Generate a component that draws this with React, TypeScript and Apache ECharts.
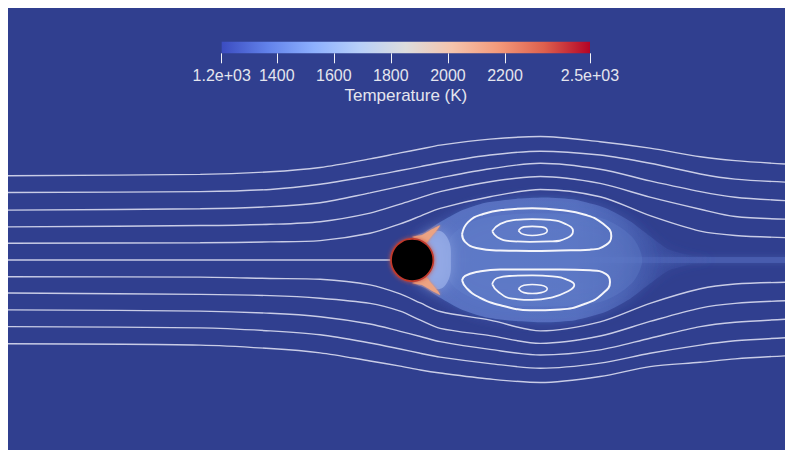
import React, { useEffect, useRef } from 'react';
import * as echarts from 'echarts';

// ---- Flow field (coordinates in cylinder diameters, cylinder centre at 0,0) ----
const streamX = [-9.4, -4.93, -3.3, -2.14, -0.98, -0.28, 0.19, 0.65, 1.81, 2.98, 4.37, 5.53, 6.7, 7.51, 8.67];
const streamT1 = [1.96, 1.99, 2.05, 2.15, 2.35, 2.49, 2.58, 2.67, 2.81, 2.87, 2.75, 2.6, 2.4, 2.31, 2.23];
const streamT2 = [1.57, 1.59, 1.64, 1.76, 1.95, 2.08, 2.17, 2.26, 2.44, 2.53, 2.44, 2.25, 2.0, 1.88, 1.81];
const streamT3 = [1.16, 1.19, 1.24, 1.33, 1.56, 1.71, 1.81, 1.91, 2.12, 2.25, 2.11, 1.84, 1.59, 1.46, 1.38];
const streamT4 = [0.77, 0.8, 0.83, 0.89, 1.09, 1.3, 1.45, 1.59, 1.82, 1.94, 1.78, 1.46, 1.18, 1.01, 0.95];
const streamT5 = [0.39, 0.4, 0.42, 0.45, 0.62, 0.84, 1.02, 1.2, 1.47, 1.64, 1.47, 1.03, 0.67, 0.57, 0.52];
const streamB5 = [-0.39, -0.4, -0.43, -0.45, -0.58, -0.79, -1.0, -1.2, -1.4, -1.65, -1.44, -1.01, -0.67, -0.56, -0.52];
const streamB4 = [-0.77, -0.8, -0.83, -0.89, -1.01, -1.19, -1.4, -1.59, -1.76, -1.94, -1.77, -1.43, -1.12, -1.01, -0.95];
const streamB3 = [-1.16, -1.19, -1.24, -1.32, -1.49, -1.66, -1.78, -1.9, -2.08, -2.21, -2.09, -1.82, -1.55, -1.45, -1.38];
const streamB2 = [-1.55, -1.58, -1.65, -1.74, -1.93, -2.07, -2.17, -2.26, -2.41, -2.52, -2.4, -2.17, -1.98, -1.88, -1.81];
const streamB1 = [-1.95, -1.98, -2.06, -2.16, -2.35, -2.47, -2.56, -2.63, -2.77, -2.85, -2.71, -2.48, -2.38, -2.3, -2.23];
const stagnationLine = [[-9.4, 0], [-0.5, 0]];

const upperOuter = [[1.16, 0.6], [1.3, 0.88], [1.65, 1.07], [2.16, 1.17], [2.79, 1.2], [3.44, 1.16], [4.02, 1.05], [4.44, 0.84], [4.63, 0.56], [4.51, 0.35], [4.14, 0.24], [3.44, 0.22], [2.74, 0.21], [2.05, 0.22], [1.49, 0.28], [1.23, 0.42], [1.16, 0.6]];
const upperMid = [[1.86, 0.67], [2.05, 0.84], [2.4, 0.93], [2.79, 0.95], [3.21, 0.93], [3.56, 0.84], [3.74, 0.67], [3.6, 0.51], [3.21, 0.43], [2.74, 0.42], [2.28, 0.44], [1.98, 0.53], [1.86, 0.67]];
const upperInner = [[2.47, 0.68], [2.6, 0.77], [2.79, 0.78], [3.0, 0.77], [3.14, 0.68], [3.0, 0.59], [2.79, 0.57], [2.6, 0.59], [2.47, 0.68]];
const lowerOuter = [[1.16, -0.47], [1.26, -0.65], [1.58, -0.88], [2.12, -1.07], [2.74, -1.17], [3.44, -1.15], [4.02, -1.02], [4.42, -0.79], [4.6, -0.51], [4.51, -0.33], [4.14, -0.24], [3.44, -0.22], [2.74, -0.22], [2.05, -0.22], [1.49, -0.28], [1.23, -0.37], [1.16, -0.47]];
const lowerMid = [[1.86, -0.56], [1.98, -0.42], [2.33, -0.37], [2.79, -0.36], [3.26, -0.38], [3.63, -0.47], [3.77, -0.58], [3.6, -0.74], [3.21, -0.88], [2.79, -0.93], [2.33, -0.9], [2.0, -0.74], [1.86, -0.56]];
const lowerInner = [[2.47, -0.67], [2.6, -0.59], [2.79, -0.57], [3.0, -0.59], [3.14, -0.67], [3.0, -0.76], [2.79, -0.78], [2.6, -0.76], [2.47, -0.67]];

const wakeOutline = [[0.05, 0.53], [0.3, 0.65], [0.65, 0.88], [1.12, 1.14], [1.7, 1.33], [2.4, 1.42], [3.09, 1.45], [3.79, 1.4], [4.49, 1.21], [5.07, 0.9], [5.53, 0.55], [5.95, 0.25], [6.5, 0.1], [6.9, 0.08], [6.9, -0.08], [6.5, -0.1], [5.95, -0.25], [5.53, -0.55], [5.07, -0.9], [4.49, -1.21], [3.79, -1.4], [3.09, -1.45], [2.4, -1.42], [1.7, -1.33], [1.12, -1.14], [0.65, -0.88], [0.3, -0.65], [0.05, -0.53]];
const wakeCore = [[0.88, 0.5], [1.58, 0.95], [2.98, 1.08], [4.37, 0.98], [5.1, 0.55], [5.35, 0], [5.1, -0.55], [4.37, -0.98], [2.98, -1.08], [1.58, -0.95], [0.88, -0.5]];
const rearRegion = [[0.3, 0.48], [0.62, 0.68], [0.85, 0.45], [0.9, 0], [0.85, -0.45], [0.62, -0.68], [0.3, -0.48]];
const upperHorn = [[0.0, 0.535], [0.23, 0.58], [0.47, 0.72], [0.65, 0.81], [0.58, 0.7], [0.42, 0.51], [0.33, 0.4], [0.21, 0.47]];
const lowerHorn = [[0.0, -0.535], [0.23, -0.58], [0.47, -0.72], [0.65, -0.81], [0.58, -0.7], [0.42, -0.51], [0.33, -0.4], [0.21, -0.47]];
const wakeStreak = [[1.0, 0.06], [6.0, 0.07], [8.9, 0.07], [8.9, -0.07], [6.0, -0.07], [1.0, -0.06]];
const cylinder = [[0, 0, 0.5]];

// ---- Colour bar ----
const tempMin = 1207;
const tempMax = 2498;
const colorTicks = [1207, 1400, 1600, 1800, 2000, 2200, 2498];
const colorTickLabels = ['1.2e+03', '1400', '1600', '1800', '2000', '2200', '2.5e+03'];
const coolWarm = ['#3b4cc0', '#6282ea', '#8db0fe', '#b8d0f9', '#dddddd', '#f5c4ad', '#f49a7b', '#de604d', '#b40426'];

const polySeries = (name: string, pts: number[][], style: any, z: number, smooth = 0) => ({
  type: 'custom',
  name,
  xAxisIndex: 0,
  yAxisIndex: 0,
  silent: true,
  clip: true,
  z,
  data: pts,
  renderItem: (params: any, api: any) => {
    if (params.dataIndex !== 0) return null;
    const points = pts.map((p) => api.coord(p));
    return { type: 'polygon', shape: { points, smooth }, style };
  },
});

const lineFrom = (ys: number[]) => streamX.map((x, i) => [x, ys[i]]);

const streamStyle = { color: 'rgba(222,224,242,0.88)', width: 1.4 };

const streamSeries = (name: string, data: number[][]) => ({
  type: 'line',
  name,
  xAxisIndex: 0,
  yAxisIndex: 0,
  data,
  showSymbol: false,
  smooth: 0.3,
  silent: true,
  z: 5,
  lineStyle: streamStyle,
});

const loopSeries = (name: string, data: number[][], width: number) => ({
  type: 'line',
  name,
  xAxisIndex: 0,
  yAxisIndex: 0,
  data,
  showSymbol: false,
  smooth: 0.5,
  silent: true,
  z: 6,
  lineStyle: { color: '#f4f5fb', width },
});

const labelFont = 'Liberation Sans, Arial, sans-serif';

const wakeFill = new echarts.graphic.LinearGradient(0, 0, 1, 0, [
  { offset: 0, color: 'rgba(90,116,196,0.95)' },
  { offset: 0.55, color: 'rgba(86,112,192,0.95)' },
  { offset: 0.7, color: 'rgba(82,108,190,0.65)' },
  { offset: 0.85, color: 'rgba(72,96,180,0.3)' },
  { offset: 1, color: 'rgba(62,84,170,0.1)' },
]);

const option: any = {
  animation: false,
  backgroundColor: '#303f8f',
  grid: [
    { left: 0, right: 0, top: 0, bottom: 0 },
    { left: 213.7, top: 33.7, width: 368.3, height: 11.6 },
  ],
  xAxis: [
    { type: 'value', gridIndex: 0, min: -9.4, max: 8.67, show: false },
    {
      type: 'value',
      gridIndex: 1,
      min: tempMin,
      max: tempMax,
      position: 'bottom',
      axisLine: { show: false },
      splitLine: { show: false },
      axisTick: { show: true, length: 10, lineStyle: { color: '#f2f2f6', width: 1 }, customValues: colorTicks },
      axisLabel: {
        customValues: colorTicks,
        color: '#e4e5ee',
        fontSize: 16,
        fontFamily: labelFont,
        margin: 14,
        formatter: (v: number) => {
          const i = colorTicks.indexOf(v);
          return i >= 0 ? colorTickLabels[i] : '';
        },
      },
      name: 'Temperature (K)',
      nameLocation: 'middle',
      nameGap: 34,
      nameTextStyle: { color: '#e4e5ee', fontSize: 17, fontFamily: labelFont },
    },
  ],
  yAxis: [
    { type: 'value', gridIndex: 0, min: -4.42, max: 5.86, show: false },
    { type: 'value', gridIndex: 1, min: 0, max: 1, show: false },
  ],
  series: [
    polySeries('wake streak', wakeStreak, { fill: 'rgba(80,104,186,0.6)', shadowBlur: 6, shadowColor: 'rgba(80,104,186,0.8)' }, 1),
    polySeries('wake', wakeOutline, { fill: wakeFill, shadowBlur: 12, shadowColor: 'rgba(80,106,188,0.6)' }, 1, 0.2),
    polySeries('wake core', wakeCore, { fill: 'rgba(104,134,206,0.3)', shadowBlur: 24, shadowColor: 'rgba(104,134,206,0.5)' }, 2, 0.3),
    polySeries('rear', rearRegion, { fill: 'rgba(155,176,234,0.7)', shadowBlur: 14, shadowColor: 'rgba(150,172,232,0.9)' }, 3, 0.4),
    polySeries('upper horn', upperHorn, { fill: '#eba383', shadowBlur: 3, shadowColor: '#e58865' }, 4, 0.2),
    polySeries('lower horn', lowerHorn, { fill: '#eba383', shadowBlur: 3, shadowColor: '#e58865' }, 4, 0.2),
    streamSeries('T1', lineFrom(streamT1)),
    streamSeries('T2', lineFrom(streamT2)),
    streamSeries('T3', lineFrom(streamT3)),
    streamSeries('T4', lineFrom(streamT4)),
    streamSeries('T5', lineFrom(streamT5)),
    streamSeries('C', stagnationLine),
    streamSeries('B5', lineFrom(streamB5)),
    streamSeries('B4', lineFrom(streamB4)),
    streamSeries('B3', lineFrom(streamB3)),
    streamSeries('B2', lineFrom(streamB2)),
    streamSeries('B1', lineFrom(streamB1)),
    loopSeries('upper outer', upperOuter, 2),
    loopSeries('upper mid', upperMid, 1.8),
    loopSeries('upper inner', upperInner, 1.6),
    loopSeries('lower outer', lowerOuter, 2),
    loopSeries('lower mid', lowerMid, 1.8),
    loopSeries('lower inner', lowerInner, 1.6),
    {
      type: 'custom',
      name: 'cylinder',
      xAxisIndex: 0,
      yAxisIndex: 0,
      silent: true,
      z: 8,
      data: cylinder,
      renderItem: (params: any, api: any) => {
        const c = api.coord([api.value(0), api.value(1)]);
        const r = api.size([api.value(2), 0])[0];
        return {
          type: 'group',
          children: [
            { type: 'circle', shape: { cx: c[0], cy: c[1], r: r + 0.5 }, style: { fill: '#c0392b', shadowBlur: 4, shadowColor: '#d0503a' } },
            { type: 'circle', shape: { cx: c[0], cy: c[1], r: r - 1.2 }, style: { fill: '#000000' } },
          ],
        };
      },
    },
    {
      type: 'custom',
      name: 'colorbar',
      xAxisIndex: 1,
      yAxisIndex: 1,
      silent: true,
      z: 10,
      data: [[tempMin, tempMax]],
      encode: { x: [0, 1] },
      renderItem: (params: any, api: any) => {
        const p0 = api.coord([api.value(0), 1]);
        const p1 = api.coord([api.value(1), 0]);
        return {
          type: 'rect',
          shape: { x: p0[0], y: p0[1], width: p1[0] - p0[0], height: p1[1] - p0[1] },
          style: {
            fill: new echarts.graphic.LinearGradient(
              0, 0, 1, 0,
              coolWarm.map((color, i) => ({ offset: i / (coolWarm.length - 1), color }))
            ),
          },
        };
      },
    },
  ],
};

export default function App() {
  const ref = useRef<HTMLDivElement>(null);
  useEffect(() => {
    const chart = echarts.init(ref.current!, null, { renderer: 'svg' });
    chart.setOption(option);
    return () => chart.dispose();
  }, []);
  return <div ref={ref} style={{ position: 'fixed', left: 8, top: 8, width: 777, height: 442 }} />;
}
